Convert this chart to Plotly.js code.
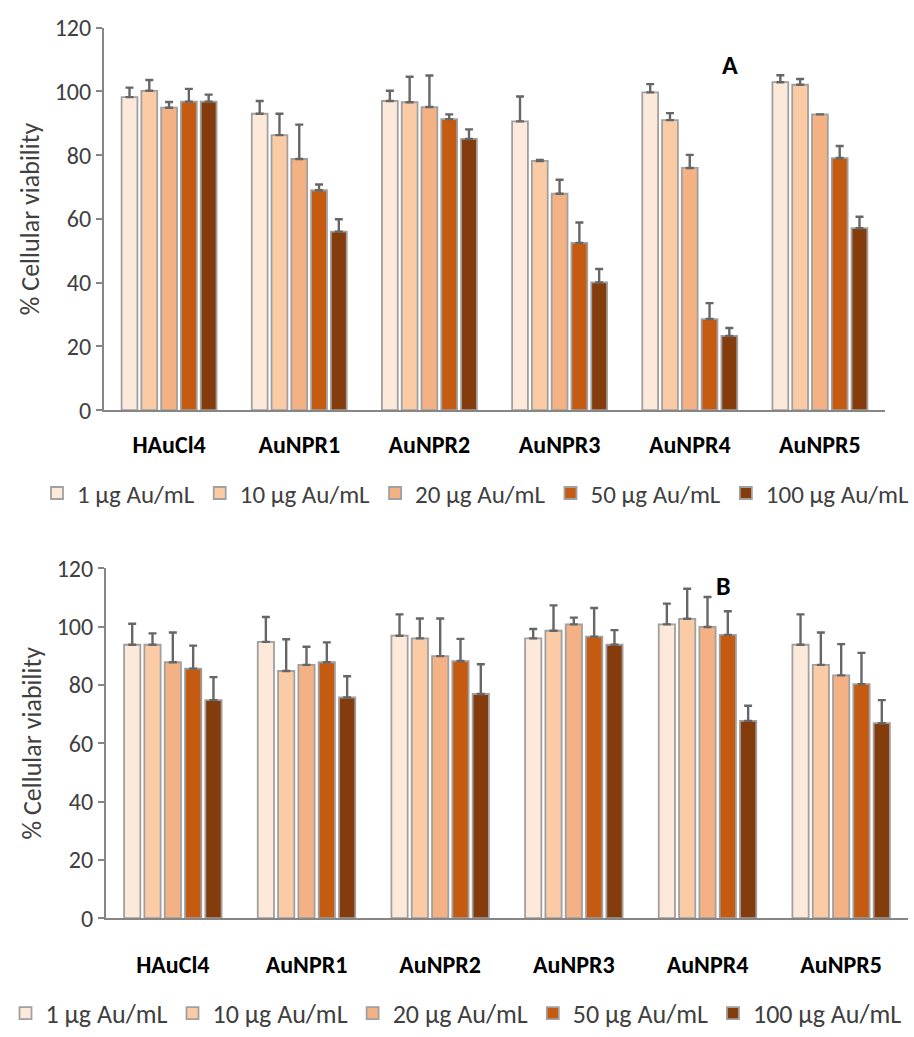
<!DOCTYPE html>
<html><head><meta charset="utf-8">
<script src="https://cdn.plot.ly/plotly-3.0.1.min.js"></script>
<style>html,body{margin:0;padding:0;background:#fff}#chart{width:914px;height:1037px}</style>
</head><body><div id="chart"></div>
<script>
const categories = ["HAuCl4","AuNPR1","AuNPR2","AuNPR3","AuNPR4","AuNPR5"];
const seriesNames = ["1 µg Au/mL","10 µg Au/mL","20 µg Au/mL","50 µg Au/mL","100 µg Au/mL"];
const colors = ["#FDE9D9","#FBCBA6","#F4B183","#C55A11","#843C0C"];

// Panel A values (rows = concentration, cols = category)
const a1   = [98.2, 93.0, 97.0, 90.6, 99.7, 102.9];
const a10  = [100.2, 86.3, 96.6, 78.2, 91.0, 102.1];
const a20  = [94.9, 78.8, 95.1, 67.9, 76.0, 92.8];
const a50  = [96.8, 69.0, 91.3, 52.5, 28.6, 79.1];
const a100 = [96.8, 56.0, 85.1, 40.1, 23.3, 57.1];
const ea1   = [3.0, 4.0, 3.2, 7.8, 2.6, 2.2];
const ea10  = [3.4, 6.7, 8.0, 0.3, 2.2, 1.8];
const ea20  = [1.8, 10.8, 9.9, 4.4, 4.1, 0];
const ea50  = [4.0, 1.8, 1.5, 6.4, 5.0, 3.8];
const ea100 = [2.2, 3.9, 3.0, 4.2, 2.5, 3.6];

// Panel B values
const b1   = [93.8, 94.8, 96.9, 96.0, 100.8, 93.8];
const b10  = [93.8, 84.8, 96.0, 98.6, 102.7, 86.9];
const b20  = [87.8, 86.9, 89.9, 100.8, 99.9, 83.3];
const b50  = [85.6, 87.8, 88.2, 96.6, 97.2, 80.3];
const b100 = [74.8, 75.7, 76.9, 93.8, 67.7, 66.9];
const eb1   = [7.2, 8.5, 7.3, 3.2, 7.1, 10.4];
const eb10  = [3.9, 10.9, 6.8, 8.7, 10.3, 11.1];
const eb20  = [10.2, 6.2, 12.9, 2.3, 10.3, 10.7];
const eb50  = [7.9, 6.8, 7.6, 9.8, 8.1, 10.7];
const eb100 = [7.9, 7.3, 10.2, 5.0, 5.2, 7.9];

const yTicks = [0,20,40,60,80,100,120];

const A = [a1,a10,a20,a50,a100], EA = [ea1,ea10,ea20,ea50,ea100];
const B = [b1,b10,b20,b50,b100], EB = [eb1,eb10,eb20,eb50,eb100];

const FONT = "Carlito, 'Liberation Sans Narrow', 'Open Sans', sans-serif";
const traces = [];
function addPanel(vals, errs, xa, ya, leg) {
  vals.forEach((v, i) => {
    traces.push({
      type: "bar", x: categories, y: v, name: seriesNames[i],
      xaxis: xa, yaxis: ya, legend: leg,
      marker: {color: colors[i], line: {color: "#A0A0A0", width: 1.8}},
      error_y: {type: "data", symmetric: false, array: errs[i],
                arrayminus: errs[i].map(() => 0), color: "#666666", thickness: 2.4, width: 4},
      hoverinfo: "skip"
    });
  });
}
addPanel(A, EA, "x", "y", "legend");
addPanel(B, EB, "x2", "y2", "legend2");

const yax = (dom, anchor) => ({
  domain: dom, anchor: anchor, range: [0, 120], tickvals: yTicks, ticks: "outside", ticklen: 6,
  tickcolor: "#868686", tickwidth: 2, showline: true, linecolor: "#868686", linewidth: 2,
  showgrid: false, zeroline: false, fixedrange: true,
  tickfont: {family: FONT, size: 24, color: "#404040"},
  title: {text: "% Cellular viability", font: {family: FONT, size: 26, color: "#404040"}, standoff: 8}
});
const xax = (dom, anchor, standoff) => ({
  domain: dom, anchor: anchor, showline: true, linecolor: "#868686", linewidth: 2,
  ticks: "", ticklabelstandoff: standoff, showgrid: false, zeroline: false,
  tickfont: {family: FONT, size: 24, color: "#000", weight: "bold"}
});

const layout = {
  width: 914, height: 1037, paper_bgcolor: "#fff", plot_bgcolor: "#fff",
  margin: {l: 0, r: 0, t: 0, b: 0},
  barmode: "group", bargap: 0.24, bargroupgap: 0.2, showlegend: true,
  xaxis: xax([104/914, 885/914], "y", 12),
  yaxis: yax([1 - 415/1037, 1 - 28/1037], "x"),
  xaxis2: xax([106/914, 908/914], "y2", 24),
  yaxis2: yax([1 - 929/1037, 1 - 575/1037], "x2"),
  legend: {orientation: "h", x: 487/914, xanchor: "center", y: 1 - 499/1037, yanchor: "middle",
           font: {family: FONT, size: 25, color: "#404040"}, itemwidth: 30, traceorder: "normal"},
  legend2: {orientation: "h", x: 456/914, xanchor: "center", y: 1 - 1025/1037, yanchor: "middle",
           font: {family: FONT, size: 26, color: "#404040"}, itemwidth: 30, traceorder: "normal"},
  annotations: [
    {text: "<b>A</b>", xref: "paper", yref: "paper", x: 740/914, y: 1 - 48/1037, showarrow: false,
     font: {family: FONT, size: 26, color: "#000"}},
    {text: "<b>B</b>", xref: "paper", yref: "paper", x: 733/914, y: 1 - 593/1037, showarrow: false,
     font: {family: FONT, size: 26, color: "#000"}}
  ]
};
Plotly.newPlot("chart", traces, layout, {displayModeBar: false, staticPlot: true});
</script></body></html>
